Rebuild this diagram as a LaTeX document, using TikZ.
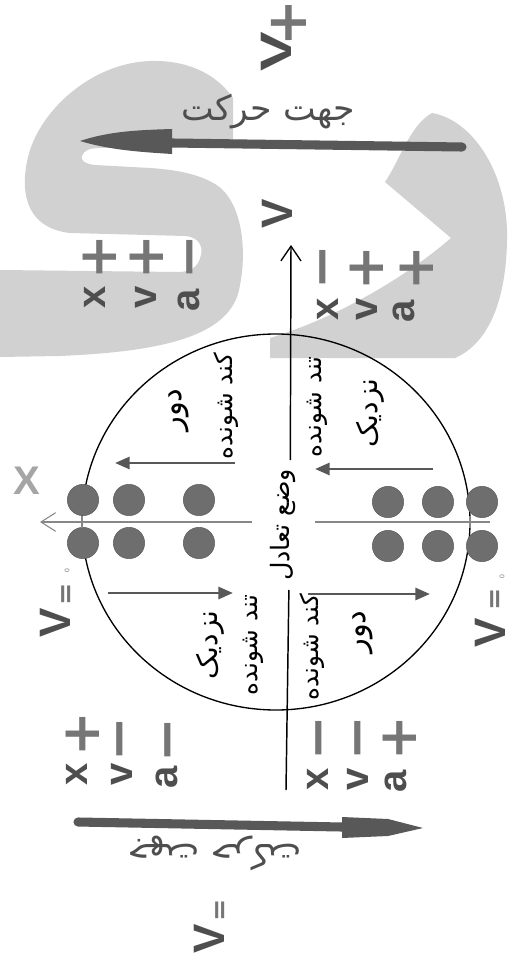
\documentclass[tikz,border=0pt]{standalone}
\usepackage{fontspec}
\usetikzlibrary{arrows.meta}
\TeXXeTstate=1
\newfontfamily\fa[Script=Arabic]{DejaVu Sans}
\newfontfamily\lat{Liberation Sans}
\newfontfamily\dvs{DejaVu Sans}
\definecolor{lightgr}{RGB}{209,209,209}
\definecolor{ink}{RGB}{78,78,78}
\definecolor{signc}{RGB}{118,118,118}
\definecolor{dotc}{RGB}{110,110,110}
\definecolor{axc}{RGB}{135,135,135}
\definecolor{arrc}{RGB}{88,88,88}
\definecolor{xlab}{RGB}{165,165,165}
\begin{document}
\begin{tikzpicture}[x=0.75pt,y=-0.75pt,
  letr/.style={font=\lat\bfseries\fontsize{30}{30}\selectfont, text=ink, rotate=90, inner sep=0pt},
  sgn/.style={font=\dvs\bfseries\fontsize{40}{40}\selectfont, text=signc, rotate=90, inner sep=0pt},
  vlab/.style={font=\lat\bfseries\fontsize{33}{33}\selectfont, text=ink, rotate=90, inner sep=0pt},
  eqs/.style={font=\dvs\bfseries\fontsize{20}{20}\selectfont, text=signc, rotate=90, inner sep=0pt},
  zer/.style={font=\lat\fontsize{5}{5}\selectfont, text=signc, rotate=90, inner sep=0pt},
  falab/.style={font=\fa\fontsize{18.5}{18.5}\selectfont, text=black, rotate=90, inner sep=0pt},
  fabig/.style={font=\fa\fontsize{21}{21}\selectfont, text=black, rotate=90, inner sep=0pt},
  fatitle/.style={font=\fa\fontsize{26}{26}\selectfont, text=ink, inner sep=0pt},
  ball/.style={circle, fill=dotc, draw=dotc!85!black, line width=0.4pt, minimum size=23.5pt, inner sep=0pt},
  inarr/.style={draw=arrc, line width=2.2pt, -{Triangle[length=11pt,width=9pt]}},
  axline/.style={draw=black, line width=1.1pt},
  xaxline/.style={draw=axc, line width=0.8pt},
  bigshaft/.style={draw=arrc, line width=6.8pt, line cap=round}
]
\useasboundingbox (0,0) rectangle (519,969);
\fill[white] (0,0) rectangle (519,969);

% gray decorative shapes
\fill[lightgr] (233,98)
  .. controls (215,72) and (185,60) .. (150,61)
  .. controls (95,63) and (45,105) .. (30,150)
  .. controls (18,190) and (25,228) .. (70,233)
  -- (185,236)
  .. controls (200,237) and (203,248) .. (201,255)
  .. controls (198,268) and (190,272) .. (178,272)
  -- (0,270) -- (0,357) -- (60,356)
  .. controls (150,352) and (228,340) .. (239,290)
  .. controls (248,250) and (242,200) .. (215,184)
  .. controls (200,175) and (180,170) .. (150,168)
  -- (95,165)
  .. controls (85,164) and (80,160) .. (82,156)
  .. controls (84,150) and (90,148) .. (100,148)
  -- (233,145) -- cycle;
\fill[lightgr] (432,113)
  .. controls (472,120) and (505,170) .. (507,230)
  .. controls (508,292) and (492,342) .. (455,358)
  -- (270,358) -- (270,338)
  .. controls (330,320) and (400,282) .. (451,238)
  -- (385,182)
  .. controls (400,160) and (410,125) .. cycle;

% top labels
\node[vlab] (vplus) at (276,52) {\scalebox{1.35}[1]{V}};
\node[sgn, font=\dvs\bfseries\fontsize{42}{42}\selectfont] (vplussign) at (289,23) {+};
\node[fatitle] (dirtop) at (268,112) {\beginR جهت حرکت\endR};

% top big arrow
\coordinate (ta1) at (462,147);
\coordinate (ta2) at (172,143);
\draw[bigshaft] (ta1) -- (ta2);
\fill[arrc] (80,141) .. controls (110,131) and (140,130) .. (172,129) -- (172,154)
  .. controls (140,152) and (110,150) .. (80,141) -- cycle;

% V near axis
\node[vlab] (vmid) at (277,214) {V};

% groups of signs, top-left
\node[letr] (tlx) at (95,297) {x};
\node[letr] (tlv) at (146,297) {v};
\node[letr] (tla) at (189,300) {a};
\node[sgn] (tlxs) at (100,257) {+};
\node[sgn] (tlvs) at (147,257) {+};
\node[sgn] (tlas) at (197,257) {−};
% top-right
\node[letr] (trx) at (328,309) {x};
\node[letr] (trv) at (367,309) {v};
\node[letr] (tra) at (404,311) {a};
\node[sgn] (trxs) at (330,267) {−};
\node[sgn] (trvs) at (367,268) {+};
\node[sgn] (tras) at (417,268) {+};
% bottom-left
\node[letr] (blx) at (77,774) {x};
\node[letr] (blv) at (122,774) {v};
\node[letr] (bla) at (167,777) {a};
\node[sgn] (blxs) at (83,734) {+};
\node[sgn] (blvs) at (127,739) {−};
\node[sgn] (blas) at (175,740) {−};
% bottom-right
\node[letr] (brx) at (318,779) {x};
\node[letr] (brv) at (358,779) {v};
\node[letr] (bra) at (396,781) {a};
\node[sgn] (brxs) at (326,738) {−};
\node[sgn] (brvs) at (365,738) {−};
\node[sgn] (bras) at (400,738) {+};

% circle
\draw[line width=1pt] (276,522) ellipse[x radius=194, y radius=188];

% V axis
\node[falab, font=\fa\fontsize{19}{19}\selectfont] (eq) at (283,525) {\beginR وضع تعادل\endR};
\coordinate (vbot) at (286,790);
\coordinate (vtop) at (291,245);
\coordinate (vg1) at (290.3,460);
\coordinate (vg2) at (288.9,590);
\draw[axline] (vbot) -- (vg2);
\draw[axline, -{Straight Barb[length=11pt,width=15pt,line width=1pt]}] (vg1) -- (vtop);

% X axis
\coordinate (xl) at (40,522);
\coordinate (xg1) at (252,522);
\coordinate (xg2) at (315,522);
\coordinate (xr) at (490,522);
\draw[xaxline, -{Straight Barb[length=11pt,width=14pt,line width=0.8pt]}] (xg1) -- (xl);
\draw[xaxline] (xg2) -- (xr);
\node[font=\lat\bfseries\fontsize{30}{30}\selectfont, text=xlab, inner sep=0pt] (xlabel) at (27,481) {X};

% balls
\foreach \n/\px/\py in {a/83/500, b/129/500, c/199/500, d/83/543, e/129/543, f/199/543,
                        g/388/502, h/438/502, i/482/502, j/388/546, k/438/546, l/482/546}
  \node[ball] (ball\n) at (\px,\py) {};
\draw[axc, line width=0.8pt] (82,516) -- (82,528);
\draw[axc, line width=0.8pt] (470,516) -- (470,528);

% inner arrows
\coordinate (ula) at (235,463); \coordinate (ulb) at (115,463);
\coordinate (ura) at (433,469); \coordinate (urb) at (315,469);
\coordinate (lla) at (108,593); \coordinate (llb) at (233,593);
\coordinate (lra) at (308,594); \coordinate (lrb) at (430,594);
\draw[inarr] (ula) -- (ulb);
\draw[inarr] (ura) -- (urb);
\draw[inarr] (lla) -- (llb);
\draw[inarr] (lra) -- (lrb);

% quadrant labels
\node[fabig, font=\fa\fontsize{23}{23}\selectfont] (uldur) at (179,410) {\beginR دور\endR};
\node[falab] (ulkond) at (226,406) {\beginR کند شونده\endR};
\node[falab] (urtond) at (317,407) {\beginR تند شونده\endR};
\node[fabig] (urnaz) at (370,413) {\beginR نزدیک\endR};
\node[fabig] (llnaz) at (210,645) {\beginR نزدیک\endR};
\node[falab] (lltond) at (253,645) {\beginR تند شونده\endR};
\node[falab] (lrkond) at (312,647) {\beginR کند شونده\endR};
\node[fabig, font=\fa\fontsize{23}{23}\selectfont] (lrdur) at (363,632) {\beginR دور\endR};

% V=0 labels
\node[vlab] (vzl) at (55,623) {V};
\node[eqs] (vzle) at (68,594) {=};
\node[zer] (vzlz) at (67,571) {0};
\node[vlab] (vzr) at (490,633) {V};
\node[eqs] (vzre) at (497,599) {=};
\node[zer] (vzrz) at (502,577) {0};

% bottom big arrow
\coordinate (ba1) at (78,822);
\coordinate (ba2) at (342,827);
\draw[bigshaft] (ba1) -- (ba2);
\fill[arrc] (342,817) -- (388,819) -- (423,828) -- (388,836) -- (342,838) -- cycle;
\node[fatitle, rotate=180] (dirbot) at (215,853) {\beginR جهت حرکت\endR};

% bottom V
\node[vlab] (vbotlab) at (209,939) {V};
\node[eqs] (vbote) at (222,910) {=};
\end{tikzpicture}
\end{document}
